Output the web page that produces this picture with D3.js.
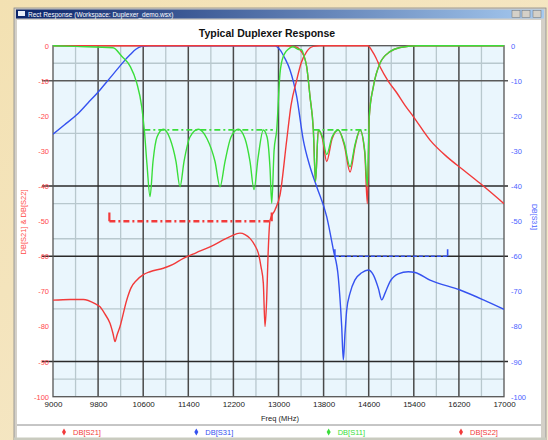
<!DOCTYPE html>
<html>
<head>
<meta charset="utf-8">
<script src="https://cdn.jsdelivr.net/npm/d3@7/dist/d3.min.js"></script>
<style>
  body { margin: 0; }
  svg { display: block; font-family: "Liberation Sans", Arial, sans-serif; }
</style>
</head>
<body>
<svg id="chart" width="548" height="440"></svg>
<script>
// axis ticks / grid
const freqTicks = [9000, 9800, 10600, 11400, 12200, 13000, 13800, 14600, 15400, 16200, 17000];
const dbTicks = [0, -10, -20, -30, -40, -50, -60, -70, -80, -90, -100];
const majorFreqGrid = [9800, 10600, 11400, 12200, 13000, 13800, 14600, 15400, 16200];
const minorFreqGrid = [9400, 10200, 11000, 11800, 12600, 13400, 14200, 15000, 15800, 16600];
const majorDbGrid = [-10, -40, -60, -90];
const minorDbGrid = [-5, -25, -45, -55, -75, -95];

// DB[S21] (red)
const s21Freq = [9000, 9302, 9538, 9745, 9834, 9922, 10011, 10064, 10100, 10135, 10189, 10307, 10384, 10485,
  10597, 10721, 10957, 11129, 11312, 11537, 11785, 12140, 12317, 12406, 12495, 12584, 12642, 12690, 12731,
  12761, 12790, 12814, 12850, 12938, 13027, 13145, 13222, 13323, 13400, 13500, 13618, 13737, 14588, 14659,
  14730, 14801, 14943, 15097, 15244, 15392, 15688, 15984, 16279, 16575, 17000];
const s21Db = [-72.5, -72.3, -72.3, -73.5, -74.4, -76.5, -79.1, -82, -84.3, -82.5, -80, -72.5, -69, -66.8,
  -65.3, -64.4, -63.4, -62.3, -60.6, -59, -57.3, -54.4, -53.4, -53.8, -54.9, -57, -59.1, -63, -67.7,
  -80, -72.4, -60, -49.7, -46.8, -42.5, -27, -17, -9.8, -5, -1.7, -0.2, 0, 0, -1.5,
  -3.5, -6, -10, -13.4, -17, -20.2, -26.9, -31.6, -35.4, -39.2, -45];

// DB[S31] (blue)
const s31Freq = [9000, 9200, 9420, 9620, 9834, 9990, 10130, 10250, 10366, 10470, 10574, 10700, 12938, 13027,
  13110, 13204, 13323, 13440, 13559, 13678, 13855, 13973, 14061, 14121, 14150, 14180, 14210, 14269, 14357,
  14476, 14593, 14682, 14771, 14831, 14890, 14978, 15125, 15302, 15422, 15688, 16220, 16634, 17000];
const s31Db = [-25.2, -22.6, -19.7, -16.3, -12.6, -9.6, -6.9, -4.6, -2.6, -1.0, -0.2, 0, 0, -1.2,
  -3.5, -6.9, -14.5, -26.9, -34.5, -40.2, -48.7, -58.2, -66, -80, -89.5, -81.8, -75.3, -70.5, -66.7,
  -64.7, -63.9, -65.3, -69.1, -72.4, -70.5, -67.2, -65, -64.4, -64.6, -66.8, -69.6, -72.4, -75.1];

// DB[S11] (green)
const s11Freq = [9000, 9400, 10064, 10219, 10366, 10485, 10574, 10620, 10668, 10721, 10774, 10845, 10957,
  11076, 11182, 11253, 11324, 11430, 11578, 11732, 11874, 11963, 12051, 12158, 12287, 12406, 12495, 12566,
  12637, 12731, 12797, 12850, 12880, 12921, 12968, 13027, 13086, 13204, 13257, 13346, 13412, 13453, 13500,
  13559, 13618, 13657, 13706, 13780, 13855, 13950, 14061, 14170, 14269, 14360, 14446, 14530, 14576, 14611,
  14682, 14801, 14978, 15155, 15452, 17000];
const s11Db = [0, -0.2, -0.6, -3, -5.8, -10.6, -17.4, -24, -34, -43, -33, -26, -23.8,
  -26.5, -33, -40.2, -33, -26, -23.8, -26.5, -33, -40.2, -33, -26, -23.8, -26.5, -33, -41,
  -32, -24, -26, -35, -44.9, -30, -24, -7.8, -3, -0.6, -0.3, -1, -1.2, -3, -6,
  -14.5, -24, -38.7, -24, -26, -31, -26, -24, -28, -34.5, -28, -24, -30, -40, -20,
  -11.7, -5, -1.7, -0.5, 0, 0];

// DB[S22] (red)
const s22Freq = [9000, 13100, 13300, 13453, 13500, 13559, 13618, 13657, 13706, 13780, 13855, 13950, 14061,
  14170, 14269, 14360, 14446, 14530, 14576, 14611, 14682, 14801, 14978, 15155, 15452, 17000];
const s22Db = [0, 0, -0.3, -3, -6, -14.5, -24, -38.7, -24, -26.5, -33, -26.5, -24,
  -28.5, -36, -28.5, -24, -30.5, -45, -20, -11.7, -5, -1.7, -0.5, 0, 0];

// spec masks
const redSpecFreq = [10000, 12880], redSpecDb = -50, redSpecTickDb = -47.5;
const greenSpecFreq = [[10620, 12900], [13620, 14590]], greenSpecDb = -24;
const blueSpecFreq = [14000, 16000], blueSpecDb = -60, blueSpecTickDb = -58;

const legendNames = ["DB[S21]", "DB[S31]", "DB[S11]", "DB[S22]"];

const RED = "#f23a3a", BLUE = "#3552f0", GREEN = "#3ade3a";
const legendColors = [RED, BLUE, GREEN, RED];

const svg = d3.select("#chart");
const defs = svg.append("defs");
const bgGrad = defs.append("linearGradient").attr("id", "bg").attr("x1", 0).attr("y1", 0).attr("x2", 1).attr("y2", 1);
bgGrad.append("stop").attr("offset", "0%").attr("stop-color", "#f3e1b2");
bgGrad.append("stop").attr("offset", "100%").attr("stop-color", "#f6ead0");
const tbGrad = defs.append("linearGradient").attr("id", "tb");
tbGrad.append("stop").attr("offset", "0%").attr("stop-color", "#0a246a");
tbGrad.append("stop").attr("offset", "100%").attr("stop-color", "#a6caf0");

// window chrome
svg.append("rect").attr("width", 548).attr("height", 440).attr("fill", "url(#bg)");
svg.append("rect").attr("x", 14).attr("y", 8).attr("width", 532).attr("height", 434)
  .attr("fill", "#d4d0c8").attr("stroke", "#8a8a8a").attr("stroke-width", 0.8);
svg.append("rect").attr("x", 16).attr("y", 9.5).attr("width", 528).attr("height", 9).attr("fill", "url(#tb)");
svg.append("rect").attr("x", 18).attr("y", 11).attr("width", 7).attr("height", 5).attr("fill", "#e8eef8");
svg.append("text").attr("x", 28).attr("y", 16.5).attr("fill", "#fff").attr("font-size", 6.5)
  .text("Rect Response  (Workspace: Duplexer_demo.wsx)");
[512, 522, 533].forEach((bx) => {
  svg.append("rect").attr("x", bx).attr("y", 10.5).attr("width", 8).attr("height", 7)
    .attr("fill", "#d4d0c8").attr("stroke", "#707070").attr("stroke-width", 0.5);
});
svg.append("rect").attr("x", 17).attr("y", 20).attr("width", 524).attr("height", 418).attr("fill", "#fff");
svg.append("line").attr("x1", 17).attr("x2", 541).attr("y1", 425).attr("y2", 425)
  .attr("stroke", "#8c8c8c").attr("stroke-width", 1);
svg.append("rect").attr("x", 14).attr("y", 437.5).attr("width", 532).attr("height", 3).attr("fill", "#c9cbbf");

// scales
const x = d3.scaleLinear().domain([9000, 17000]).range([53, 504]);
const y = d3.scaleLinear().domain([0, -100]).range([45.7, 396.7]);

// plot background
svg.append("rect").attr("x", x(9000)).attr("y", y(0))
  .attr("width", x(17000) - x(9000)).attr("height", y(-100) - y(0)).attr("fill", "#eaf6fd");

const grid = svg.append("g");
grid.selectAll(".vminor").data(minorFreqGrid).join("line")
  .attr("x1", (d) => x(d)).attr("x2", (d) => x(d)).attr("y1", y(0)).attr("y2", y(-100))
  .attr("stroke", "#b8c8ce").attr("stroke-width", 1.3);
grid.selectAll(".hminor").data(minorDbGrid).join("line")
  .attr("x1", x(9000)).attr("x2", x(17000)).attr("y1", (d) => y(d)).attr("y2", (d) => y(d))
  .attr("stroke", "#b8c8ce").attr("stroke-width", 1.3);
grid.selectAll(".vmajor").data(majorFreqGrid).join("line")
  .attr("x1", (d) => x(d)).attr("x2", (d) => x(d)).attr("y1", y(0)).attr("y2", y(-100))
  .attr("stroke", "#4a4a4a").attr("stroke-width", 1.5);
grid.selectAll(".hmajor").data(majorDbGrid).join("line")
  .attr("x1", x(9000) - 11).attr("x2", x(17000) + 4).attr("y1", (d) => y(d)).attr("y2", (d) => y(d))
  .attr("stroke", (d) => (d === -10 ? "#5a5a5a" : "#2a2a2a")).attr("stroke-width", 1.5);
svg.append("rect").attr("x", x(9000)).attr("y", y(0))
  .attr("width", x(17000) - x(9000)).attr("height", y(-100) - y(0))
  .attr("fill", "none").attr("stroke", "#555").attr("stroke-width", 1.3);

// axes labels
const xAxis = svg.append("g").attr("transform", `translate(0,${y(-100) + 3})`)
  .call(d3.axisBottom(x).tickValues(freqTicks).tickSize(0).tickPadding(2).tickFormat((d) => d));
xAxis.select(".domain").remove();
xAxis.selectAll("text").attr("font-size", 8).attr("fill", "#222").attr("font-family", null);

const yLeft = svg.append("g").attr("transform", `translate(${x(9000) - 4},0)`)
  .call(d3.axisLeft(y).tickValues(dbTicks).tickSize(0).tickPadding(0).tickFormat((d) => d));
yLeft.select(".domain").remove();
yLeft.selectAll("text").attr("font-size", 7.5).attr("fill", "#ff4a4a").attr("font-family", null);

const yRight = svg.append("g").attr("transform", `translate(${x(17000) + 7},0)`)
  .call(d3.axisRight(y).tickValues(dbTicks).tickSize(0).tickPadding(0).tickFormat((d) => d));
yRight.select(".domain").remove();
yRight.selectAll("text").attr("font-size", 7.5).attr("fill", "#4a62ff").attr("font-family", null);

svg.append("text").attr("x", 267).attr("y", 36.5).attr("text-anchor", "middle")
  .attr("font-size", 10.5).attr("font-weight", "bold").attr("fill", "#111").text("Typical Duplexer Response");
svg.append("text").attr("x", 280).attr("y", 421).attr("text-anchor", "middle")
  .attr("font-size", 7.5).attr("fill", "#222").text("Freq (MHz)");
svg.append("text").attr("transform", "translate(26,222) rotate(-90)").attr("text-anchor", "middle")
  .attr("font-size", 7.5).attr("fill", "#ff4a4a").text("DB[S21] & DB[S22]");
svg.append("text").attr("transform", "translate(532,217) rotate(90)").attr("text-anchor", "middle")
  .attr("font-size", 7).attr("fill", "#4a62ff").text("DB[S31]");

// curves
const clip = defs.append("clipPath").attr("id", "plotclip").append("rect")
  .attr("x", x(9000)).attr("y", y(0) - 2).attr("width", x(17000) - x(9000)).attr("height", y(-100) - y(0) + 2);
const line = d3.line().x((d) => x(d[0])).y((d) => y(d[1])).curve(d3.curveMonotoneX);
const plot = svg.append("g").attr("clip-path", "url(#plotclip)");

const series = [
  { f: s31Freq, v: s31Db, c: BLUE },
  { f: s21Freq, v: s21Db, c: RED },
  { f: s22Freq, v: s22Db, c: RED },
  { f: s11Freq, v: s11Db, c: GREEN },
];
series.forEach((s) => {
  plot.append("path").datum(d3.zip(s.f, s.v)).attr("d", line)
    .attr("fill", "none").attr("stroke", s.c).attr("stroke-width", 1.4).attr("stroke-linejoin", "round");
});

// spec masks
const specLine = (g, f0, f1, db, color, width, dash) =>
  g.append("line").attr("x1", x(f0)).attr("x2", x(f1)).attr("y1", y(db)).attr("y2", y(db))
    .attr("stroke", color).attr("stroke-width", width).attr("stroke-dasharray", dash);
specLine(plot, redSpecFreq[0], redSpecFreq[1], redSpecDb, RED, 2.4, "6,3,2,3");
redSpecFreq.forEach((f) => {
  plot.append("line").attr("x1", x(f)).attr("x2", x(f)).attr("y1", y(redSpecDb)).attr("y2", y(redSpecTickDb))
    .attr("stroke", RED).attr("stroke-width", 2.2);
});
greenSpecFreq.forEach((r) => specLine(plot, r[0], r[1], greenSpecDb, GREEN, 1.8, "6,3,2,3"));
specLine(plot, blueSpecFreq[0], blueSpecFreq[1], blueSpecDb, BLUE, 1.5, "4,2");
blueSpecFreq.forEach((f) => {
  plot.append("line").attr("x1", x(f)).attr("x2", x(f)).attr("y1", y(blueSpecDb)).attr("y2", y(blueSpecTickDb))
    .attr("stroke", BLUE).attr("stroke-width", 1.6);
});

// legend
const legX = d3.scalePoint().domain(legendNames.map((d, i) => i)).range([64, 461]);
const leg = svg.selectAll(".leg").data(legendNames).join("g")
  .attr("transform", (d, i) => `translate(${legX(i)},432)`);
leg.append("path").attr("d", d3.symbol(d3.symbolDiamond, 14))
  .attr("fill", (d, i) => legendColors[i]);
leg.append("text").attr("x", 9).attr("y", 3).attr("font-size", 7.5)
  .attr("fill", (d, i) => legendColors[i]).text((d) => d);
</script>
</body>
</html>
